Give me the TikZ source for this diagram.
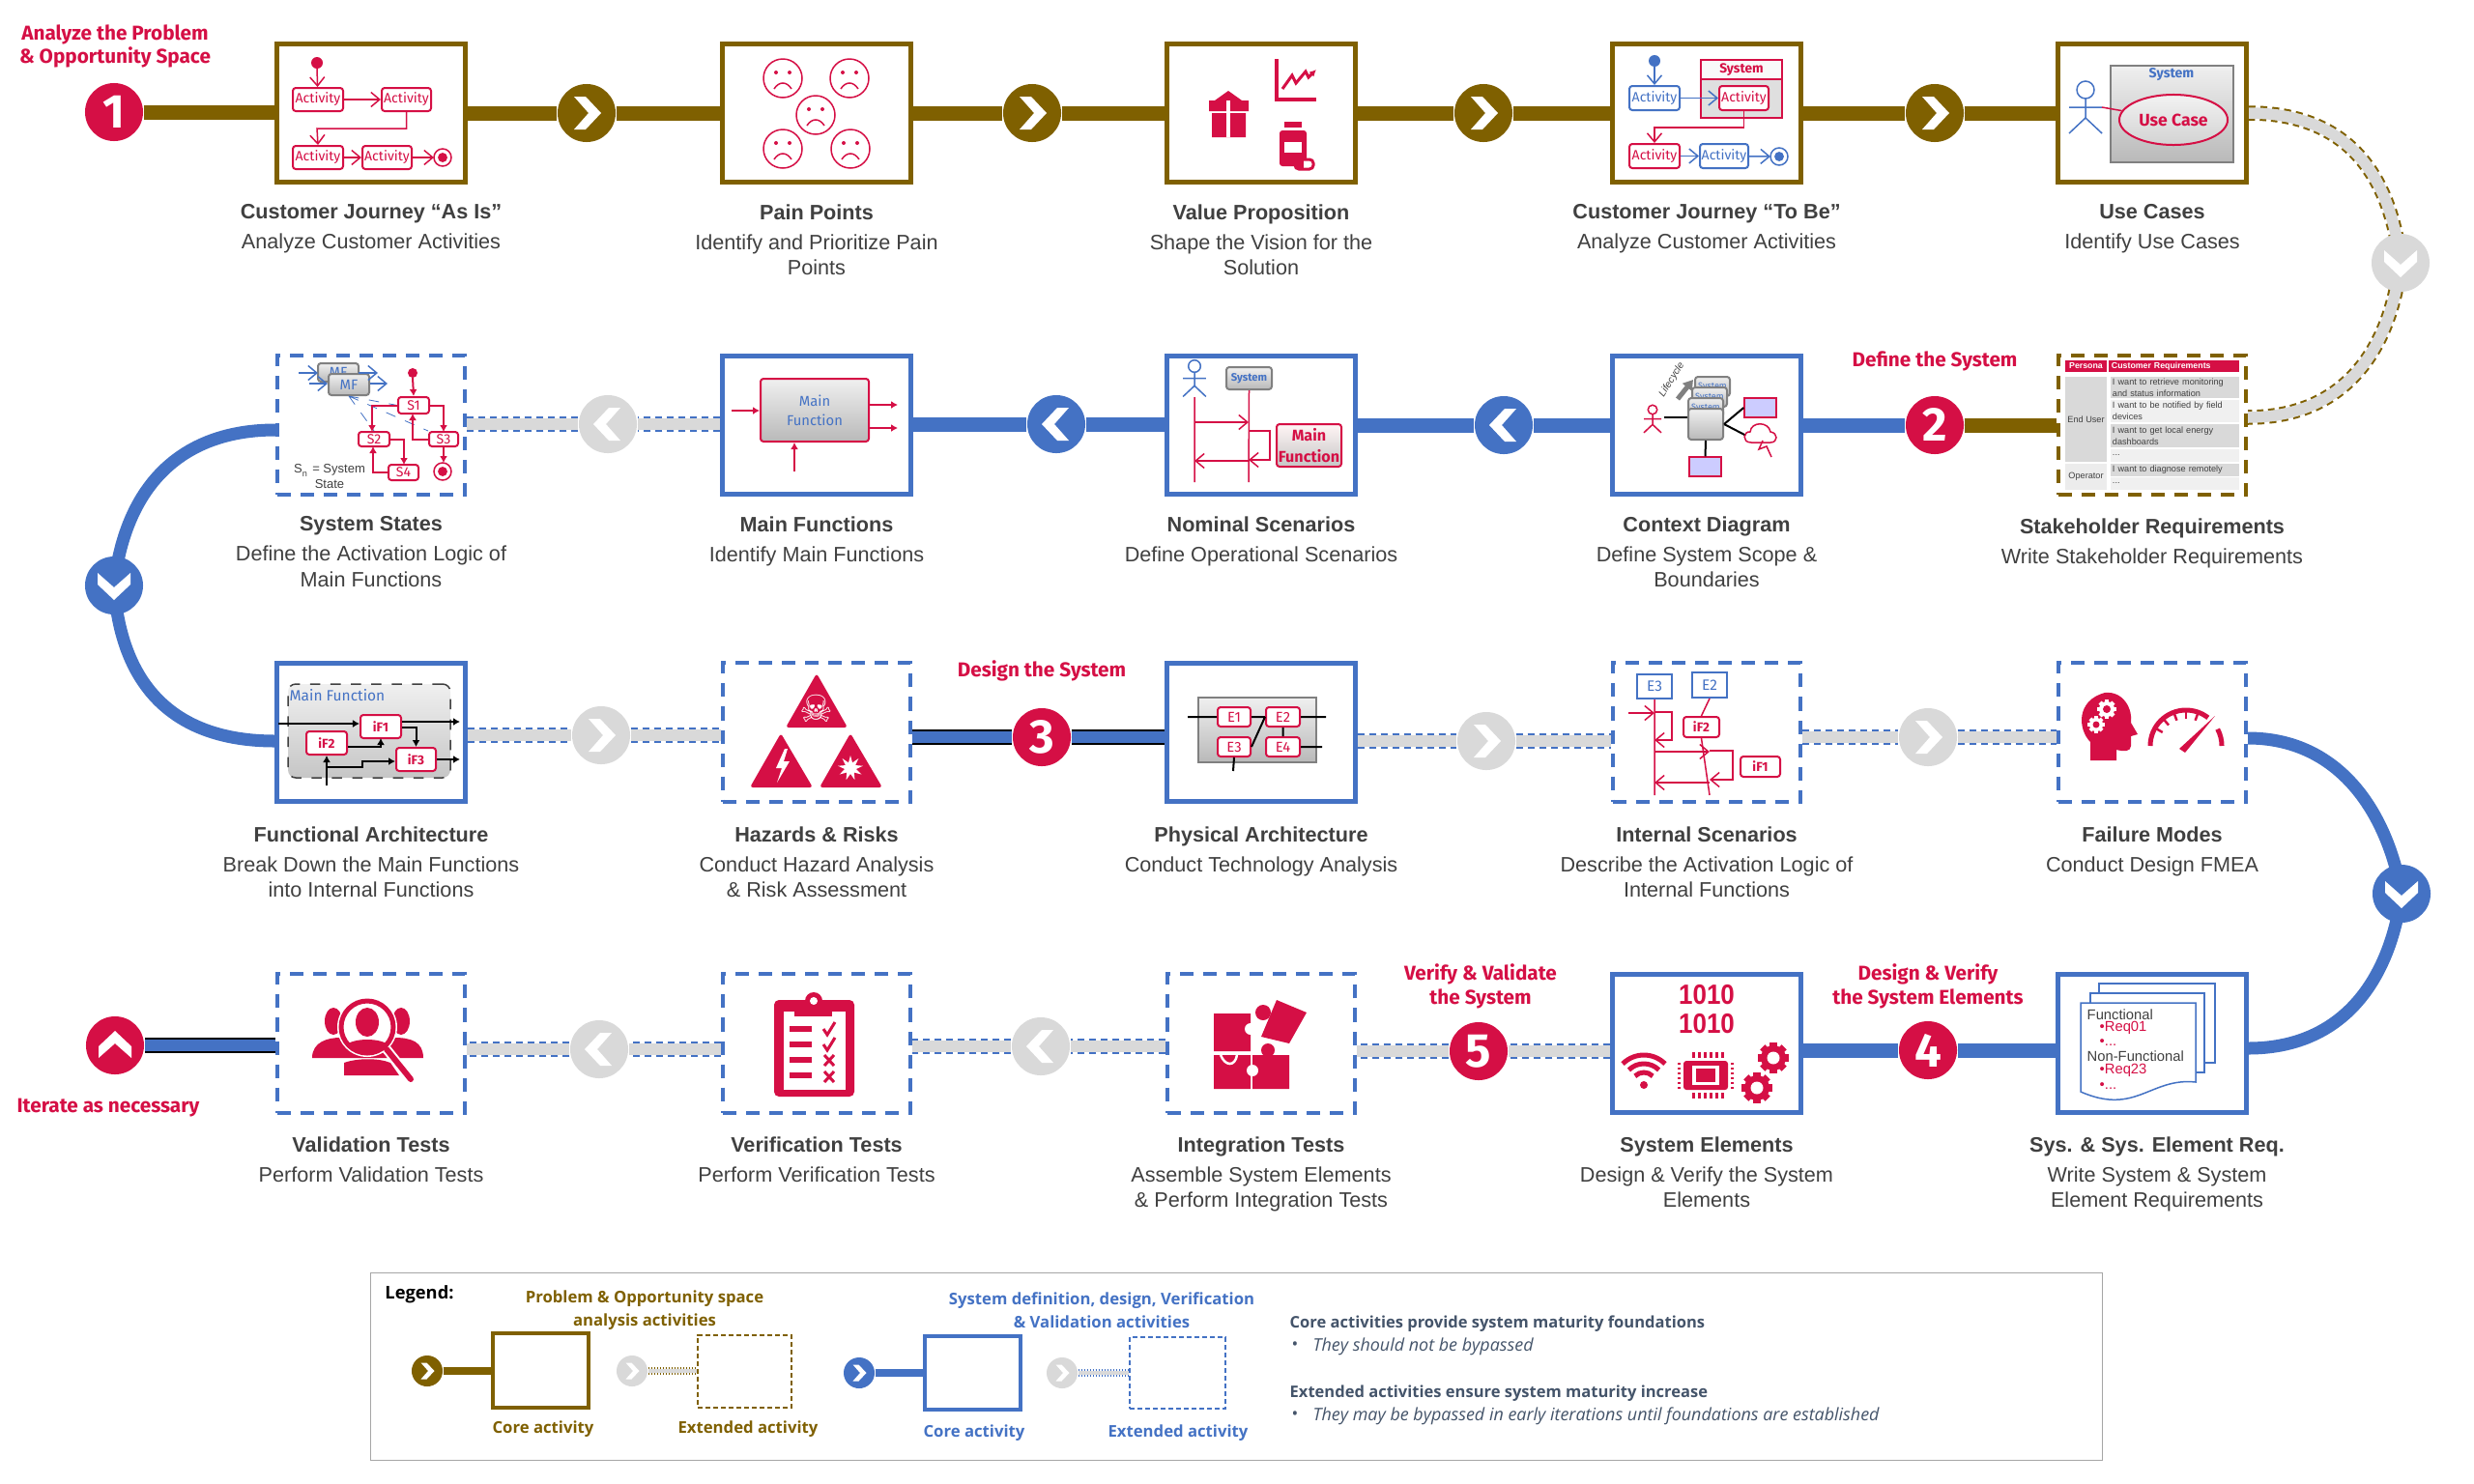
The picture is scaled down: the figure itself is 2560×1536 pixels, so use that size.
\documentclass[tikz,border=0pt]{standalone}
\usepackage{fontspec}
\usepackage{tikz}
\usetikzlibrary{arrows.meta,backgrounds,shapes.geometric}
\setmainfont{Liberation Sans}
\newfontfamily\headfont{Fira Sans}
\newfontfamily\legfont{Open Sans}
\newfontfamily\symfont{DejaVu Sans}
\definecolor{crimred}{HTML}{D50F45}
\definecolor{corebrown}{HTML}{7F6000}
\definecolor{coreblue}{HTML}{4472C4}
\definecolor{extgray}{HTML}{D9D9D9}
\definecolor{inkgray}{HTML}{404040}
\definecolor{slate}{HTML}{44546A}
\newcommand{\fsz}[1]{\fontsize{#1}{#1}\selectfont}
\newcommand{\ibox}[6][redact]{\node[#1,minimum width={(#5-#3)*0.01cm},minimum height={(#6-#4)*0.01cm}] (#2) at ({(#3+#5)/2},{(#4+#6)/2})}
\newcommand{\chevron}[3][1]{\fill[white,shift={(#2)},rotate=#3,scale=#1] (-13,-17) -- (-1,-17) -- (15,0) -- (-1,17) -- (-13,17) -- (2,0) -- cycle;}
\newcommand{\stickman}[4]{\begin{scope}[shift={(#1,#2)},scale=#3]
    \draw[draw=#4,line width=.15mm] (0,0) circle (9) (0,9) -- (0,29) (-17,18) -- (17,18) (-17,45) -- (0,29) -- (17,45);
  \end{scope}}
\newcommand{\stopdot}[4]{\draw[#4,line width=.15mm,fill=white] (#1,#2) circle (#3); \fill[#4] (#1,#2) circle ({#3*.55});}
\newcommand{\geartoy}[5]{\foreach \a in {0,45,...,135} {\fill[#4,shift={(#1,#2)},rotate=\a] ({-#3*.28},{-#3*1.22}) rectangle ({#3*.28},{#3*1.22});}
  \fill[#4] (#1,#2) circle (#3); \fill[#5] (#1,#2) circle ({#3*.5});}
\tikzset{
  coreb/.style={draw=coreblue,fill=white,line width=.5mm,minimum width=1.94cm,minimum height=1.43cm,inner sep=0pt},
  coren/.style={coreb,draw=corebrown},
  extb/.style={coreb,line width=.4mm,dash pattern=on 1.4mm off 1mm},
  extn/.style={extb,draw=corebrown},
  stagelbl/.style={anchor=north,align=center,inner sep=0pt,text=inkgray,font=\fontsize{6.15}{7.5}\selectfont},
  headlbl/.style={align=center,inner sep=0pt,text=crimred,font=\headfont\bfseries\fontsize{5.9}{6.9}\selectfont},
  corelink/.style={draw=#1,line width=1.5mm},
  edgelink/.style={draw=black,line width=1.6mm,postaction={draw=coreblue,line width=1.25mm}},
  extband/.style={draw=#1,line width=1.55mm,dash pattern=on .7mm off .5mm,postaction={draw=extgray,solid,line width=1.15mm}},
  thinband/.style={draw=#1,line width=.8mm,dash pattern=on .15mm off .15mm,postaction={draw=extgray,solid,line width=.35mm}},
  chevmark/.style={circle,fill=#1,minimum size=6mm,inner sep=0pt},
  smallmark/.style={circle,fill=#1,minimum size=3.2mm,inner sep=0pt},
  numdot/.style={chevmark=crimred,text=white,font=\headfont\bfseries\fsz{14}},
  redact/.style={draw=crimred,fill=white,rounded corners=.3mm,line width=.2mm,inner sep=0pt,text=crimred,font=\headfont\fsz{4}},
  blueact/.style={redact,draw=coreblue,text=coreblue},
  grayblock/.style={redact,draw=gray,top color=gray!12,bottom color=gray!55,text=coreblue},
  pinkblock/.style={redact,top color=red!4,bottom color=gray!45,font=\headfont\bfseries\fsz{4.6}},
  cell/.style={inner sep=0pt,fill=extgray,text=inkgray,align=left,font=\fontsize{2.6}{3.4}\selectfont},
  tabtxt/.style={cell,text width=1.29cm},
  lilac/.style={draw=crimred,fill=blue!20,inner sep=0pt,line width=.15mm},
  ua/.style={-{Straight Barb[length=.9mm,width=1.5mm]},line width=.15mm,draw=#1},
  ua/.default=crimred,
  fa/.style={-{Latex[length=.7mm,width=.8mm]},line width=.2mm,draw=#1},
  fa/.default=crimred,
  leglbl/.style={align=center,inner sep=0pt,text=#1,font=\legfont\bfseries\fontsize{4.75}{6.9}\selectfont},
  legtxt/.style={anchor=west,inner sep=0pt,text=slate,font=\legfont\fontsize{5.1}{6}\selectfont},
}
\begin{document}
\begin{tikzpicture}[x=0.01cm,y=-0.01cm]
  \useasboundingbox (0,0) rectangle (2560,1536);

  \node[coren] (journeyA) at (384,117) {};
  \node[coren] (pain) at (845,117) {};
  \node[coren] (valprop) at (1305,117) {};
  \node[coren] (journeyB) at (1766,117) {};
  \node[coren] (usecase) at (2227,117) {};
  \node[extb] (sysstate) at (384,440) {};
  \node[coreb] (mainfun) at (845,440) {};
  \node[coreb] (nominal) at (1305,440) {};
  \node[coreb] (context) at (1766,440) {};
  \node[extn] (stakeh) at (2227,440) {};
  \node[coreb] (funarch) at (384,758) {};
  \node[extb] (hazard) at (845,758) {};
  \node[coreb] (physarch) at (1305,758) {};
  \node[extb] (intscen) at (1766,758) {};
  \node[extb] (failm) at (2227,758) {};
  \node[extb] (valtest) at (384,1080) {};
  \node[extb] (vertest) at (845,1080) {};
  \node[extb] (intest) at (1305,1080) {};
  \node[coreb] (syselem) at (1766,1080) {};
  \node[coreb] (sysreq) at (2227,1080) {};

  \node[stagelbl] (journeyAL) at (384,211) {\textbf{Customer Journey “As Is”}\\[1.3pt]Analyze Customer Activities};
  \node[stagelbl] (painL) at (845,211) {\textbf{Pain Points}\\[1.3pt]Identify and Prioritize Pain\\Points};
  \node[stagelbl] (valpropL) at (1305,211) {\textbf{Value Proposition}\\[1.3pt]Shape the Vision for the\\Solution};
  \node[stagelbl] (journeyBL) at (1766,211) {\textbf{Customer Journey “To Be”}\\[1.3pt]Analyze Customer Activities};
  \node[stagelbl] (usecaseL) at (2227,211) {\textbf{Use Cases}\\[1.3pt]Identify Use Cases};
  \node[stagelbl] (sysstateL) at (384,534) {\textbf{System States}\\[1.3pt]Define the Activation Logic of\\Main Functions};
  \node[stagelbl] (mainfunL) at (845,534) {\textbf{Main Functions}\\[1.3pt]Identify Main Functions};
  \node[stagelbl] (nominalL) at (1305,534) {\textbf{Nominal Scenarios}\\[1.3pt]Define Operational Scenarios};
  \node[stagelbl] (contextL) at (1766,534) {\textbf{Context Diagram}\\[1.3pt]Define System Scope \&\\Boundaries};
  \node[stagelbl] (stakehL) at (2227,536) {\textbf{Stakeholder Requirements}\\[1.3pt]Write Stakeholder Requirements};
  \node[stagelbl] (funarchL) at (384,855) {\textbf{Functional Architecture}\\[1.3pt]Break Down the Main Functions\\into Internal Functions};
  \node[stagelbl] (hazardL) at (845,855) {\textbf{Hazards \& Risks}\\[1.3pt]Conduct Hazard Analysis\\\& Risk Assessment};
  \node[stagelbl] (physarchL) at (1305,855) {\textbf{Physical Architecture}\\[1.3pt]Conduct Technology Analysis};
  \node[stagelbl] (intscenL) at (1766,855) {\textbf{Internal Scenarios}\\[1.3pt]Describe the Activation Logic of\\Internal Functions};
  \node[stagelbl] (failmL) at (2227,855) {\textbf{Failure Modes}\\[1.3pt]Conduct Design FMEA};
  \node[stagelbl] (valtestL) at (384,1176) {\textbf{Validation Tests}\\[1.3pt]Perform Validation Tests};
  \node[stagelbl] (vertestL) at (845,1176) {\textbf{Verification Tests}\\[1.3pt]Perform Verification Tests};
  \node[stagelbl] (intestL) at (1305,1176) {\textbf{Integration Tests}\\[1.3pt]Assemble System Elements\\\& Perform Integration Tests};
  \node[stagelbl] (syselemL) at (1766,1176) {\textbf{System Elements}\\[1.3pt]Design \& Verify the System\\Elements};
  \node[stagelbl] (sysreqL) at (2232,1176) {\textbf{Sys. \& Sys. Element Req.}\\[1.3pt]Write System \& System\\Element Requirements};

  \node[headlbl] (phase1) at (119,48) {Analyze the Problem\\\& Opportunity Space};
  \node[headlbl] (phase2) at (2002,374) {Define the System};
  \node[headlbl] (phase3) at (1078,694) {Design the System};
  \node[headlbl] (phase5) at (1532,1021) {Verify \& Validate\\the System};
  \node[headlbl] (phase4) at (1995,1021) {Design \& Verify\\the System Elements};
  \node[headlbl] (phaseEnd) at (112,1147) {Iterate as necessary};

  \node[numdot] (num1) at (118,116) {1};
  \node[numdot] (num2) at (2002,440) {2};
  \node[numdot] (num3) at (1078,763) {3};
  \node[numdot] (num4) at (1995,1087) {4};
  \node[numdot] (num5) at (1530,1088) {5};

  \node[chevmark=corebrown] (mkA) at (607,117) {}; \chevron{mkA}{0}
  \node[chevmark=corebrown] (mkB) at (1068,117) {}; \chevron{mkB}{0}
  \node[chevmark=corebrown] (mkC) at (1535,117) {}; \chevron{mkC}{0}
  \node[chevmark=corebrown] (mkD) at (2002,117) {}; \chevron{mkD}{0}
  \node[chevmark=extgray] (mkE) at (2484,272) {}; \chevron{mkE}{-90}
  \node[chevmark=coreblue] (mkF) at (1556,440) {}; \chevron{mkF}{180}
  \node[chevmark=coreblue] (mkG) at (1093,439) {}; \chevron{mkG}{180}
  \node[chevmark=extgray] (mkH) at (629,439) {}; \chevron{mkH}{180}
  \node[chevmark=coreblue] (mkI) at (118,606) {}; \chevron{mkI}{-90}
  \node[chevmark=extgray] (mkJ) at (622,761) {}; \chevron{mkJ}{0}
  \node[chevmark=extgray] (mkK) at (1538,767) {}; \chevron{mkK}{0}
  \node[chevmark=extgray] (mkL) at (1995,763) {}; \chevron{mkL}{0}
  \node[chevmark=coreblue] (mkM) at (2485,925) {}; \chevron{mkM}{-90}
  \node[chevmark=extgray] (mkN) at (1077,1083) {}; \chevron{mkN}{180}
  \node[chevmark=extgray] (mkO) at (620,1086) {}; \chevron{mkO}{180}
  \node[chevmark=crimred] (mkEnd) at (119,1082) {}; \chevron{mkEnd}{90}

  \begin{scope}[on background layer]
    \fill[white] (0,0) rectangle (2560,1536);
    \draw[corelink=corebrown] (num1) -- (journeyA.west |- num1) (journeyA.east |- mkA) -- (mkA) -- (pain.west |- mkA);
    \draw[corelink=corebrown] (pain.east |- mkB) -- (mkB) -- (valprop.west |- mkB);
    \draw[corelink=corebrown] (valprop.east |- mkC) -- (mkC) -- (journeyB.west |- mkC);
    \draw[corelink=corebrown] (journeyB.east |- mkD) -- (mkD) -- (usecase.west |- mkD);
    \draw[extband=corebrown] (usecase.east) .. controls (2420,117) and (2472,170) .. (mkE.center) .. controls (2472,370) and (2420,432) .. ([yshift=.08cm]stakeh.east);
    \draw[corelink=corebrown] (num2) -- (stakeh.west |- num2);
    \draw[corelink=coreblue] (num2) -- (context.east |- num2);
    \draw[corelink=coreblue] (context.west |- mkF) -- (mkF) -- (nominal.east |- mkF);
    \draw[corelink=coreblue] (nominal.west |- mkG) -- (mkG) -- (mainfun.east |- mkG);
    \draw[extband=coreblue] (mainfun.west |- mkH) -- (mkH) -- (sysstate.east |- mkH);
    \draw[draw=coreblue,line width=1.3mm] ([yshift=-.05cm]sysstate.west) .. controls (190,445) and (130,500) .. (mkI.center) .. controls (125,710) and (180,767) .. ([yshift=-.09cm]funarch.west);
    \draw[extband=coreblue] (funarch.east |- mkJ) -- (mkJ) -- (hazard.west |- mkJ);
    \draw[edgelink] (hazard.east |- num3) -- (num3) -- (physarch.west |- num3);
    \draw[extband=coreblue] (physarch.east |- mkK) -- (mkK) -- (intscen.west |- mkK);
    \draw[extband=coreblue] (intscen.east |- mkL) -- (mkL) -- (failm.west |- mkL);
    \draw[draw=coreblue,line width=1.3mm] ([yshift=-.06cm]failm.east) .. controls (2420,764) and (2470,840) .. (mkM.center) .. controls (2472,1020) and (2420,1085) .. ([yshift=-.05cm]sysreq.east);
    \draw[corelink=coreblue] (sysreq.west |- num4) -- (num4) -- (syselem.east |- num4);
    \draw[extband=coreblue] (syselem.west |- num5) -- (num5) -- (intest.east |- num5);
    \draw[extband=coreblue] (intest.west |- mkN) -- (mkN) -- (vertest.east |- mkN);
    \draw[extband=coreblue] (vertest.west |- mkO) -- (mkO) -- (valtest.east |- mkO);
    \draw[edgelink] (valtest.west |- mkEnd) -- (mkEnd);
  \end{scope}

  \fill[crimred] (328,65) circle (6);
  \ibox{actA}{303}{91}{355}{115} {Activity};
  \ibox{actB}{395}{91}{446}{115} {Activity};
  \ibox{actC}{303}{151}{355}{175} {Activity};
  \ibox{actD}{375}{151}{426}{175} {Activity};
  \stopdot{458}{163}{9}{crimred}
  \coordinate (actEnd) at (449,163);
  \draw[ua] (328,71) -- (actA);
  \draw[ua] (actA) -- (actB);
  \draw[ua] (actB.south) |- (328,133) -- (actC.north);
  \draw[ua] (actC) -- (actD);
  \draw[ua] (actD) -- (actEnd);

  \foreach \x/\y in {810/81,879/81,844/119,810/154,880/154} {
    \begin{scope}[shift={(\x,\y)},draw=crimred,line width=.15mm]
      \draw (0,0) circle (20);
      \fill[crimred] (-7,-6) circle (2) (7,-6) circle (2);
      \draw (-9,11) .. controls (-4,3) and (4,3) .. (9,11);
    \end{scope}
  }

  \fill[crimred] (1251,104) rectangle (1292,115) (1254,117) rectangle (1289,142) (1257,104) -- (1271,94) -- (1285,104) -- cycle;
  \fill[white] (1269,104) rectangle (1273,142);
  \draw[crimred,line width=.4mm] (1321,61) -- (1321,103) -- (1362,103);
  \draw[crimred,line width=.3mm,-{Latex[length=.7mm,width=.7mm]}] (1327,92) -- (1337,78) -- (1341,86) -- (1351,74) -- (1354,80) -- (1362,72);
  \fill[crimred] (1329,126) rectangle (1347,132);
  \fill[crimred,rounded corners=.3mm] (1324,135) rectangle (1352,172);
  \fill[white] (1329,147) rectangle (1347,158);
  \draw[crimred,fill=white,line width=.3mm,rounded corners=.4mm] (1340,165) rectangle (1359,175);
  \fill[crimred] (1340,165) rectangle (1349,175);

  \fill[coreblue] (1712,63) circle (6);
  \ibox[redact,rounded corners=0pt,fill=gray!25]{sysbox}{1760}{62}{1844}{122} {};
  \ibox[redact,rounded corners=0pt,fill=gray!5,font=\headfont\bfseries\fsz{3.9}]{syshead}{1760}{62}{1844}{82} {System};
  \ibox[blueact]{tbA}{1686}{89}{1738}{114} {Activity};
  \ibox{tbB}{1779}{89}{1830}{114} {Activity};
  \ibox{tbC}{1686}{149}{1738}{174} {Activity};
  \ibox[blueact]{tbD}{1759}{149}{1809}{174} {Activity};
  \stopdot{1841}{162}{9}{coreblue}
  \coordinate (tbEnd) at (1832,162);
  \draw[ua=coreblue] (1712,69) -- (tbA);
  \draw[ua=coreblue] (tbA) -- (tbB);
  \draw[ua] (tbB.south) |- (1712,132) -- (tbC.north);
  \draw[ua=coreblue] (tbC) -- (tbD);
  \draw[ua=coreblue] (tbD) -- (tbEnd);

  \ibox[grayblock,rounded corners=0pt]{ucpanel}{2184}{68}{2311}{168} {};
  \node[inner sep=0pt,text=coreblue,font=\headfont\bfseries\fsz{4}] (uctitle) at (2247,77) {System};
  \node[ellipse,draw=crimred,line width=.2mm,top color=gray!10,bottom color=gray!35,minimum width=1.12cm,minimum height=.52cm,inner sep=0pt,text=crimred,font=\headfont\bfseries\fsz{5}] (ucase) at (2249,124) {Use Case};
  \stickman{2158}{93}{1}{coreblue}
  \coordinate (ucHand) at (2175,111);
  \draw[crimred,line width=.15mm] (ucHand) -- (ucase);

  \ibox[cell,fill=crimred,text=white,font=\bfseries\fsz{2.5}]{tabPers}{2137}{373}{2180}{385} {Persona};
  \ibox[tabtxt,fill=crimred,text=white,font=\bfseries\fsz{2.5}]{tabReq}{2182}{373}{2317}{385} {Customer Requirements};
  \ibox[cell]{tabEnd}{2137}{390}{2180}{478} {End User};
  \ibox[cell,fill=extgray!50]{tabOp}{2137}{480}{2180}{507} {Operator};
  \ibox[tabtxt]{tabA}{2184}{390}{2317}{412} {I want to retrieve monitoring\\and status information};
  \ibox[tabtxt,fill=extgray!40]{tabB}{2184}{414}{2317}{437} {I want to be notified by field\\devices};
  \ibox[tabtxt]{tabC}{2184}{439}{2317}{463} {I want to get local energy\\dashboards};
  \ibox[tabtxt,fill=extgray!40]{tabD}{2184}{465}{2317}{478} {...};
  \ibox[tabtxt]{tabE}{2184}{480}{2317}{493} {I want to diagnose remotely};
  \ibox[tabtxt,fill=extgray!40]{tabF}{2184}{494}{2317}{507} {...};

  \ibox[grayblock,font=\headfont\fsz{2.6}]{stackA}{1754}{390}{1790}{410} {System};
  \ibox[grayblock,font=\headfont\fsz{2.6}]{stackB}{1751}{401}{1787}{421} {System};
  \ibox[grayblock,font=\headfont\fsz{2.6}]{stackC}{1747}{412}{1783}{432} {System};
  \ibox[grayblock]{stackD}{1747}{423}{1783}{455} {};
  \draw[gray,line width=.5mm,-{Triangle[length=1mm,width=1.2mm]}] (1736,413) -- (1752,393);
  \node[rotate=58,inner sep=0pt,text=inkgray,font=\itshape\fsz{2.9}] (lifetxt) at (1730,393) {Lifecycle};
  \stickman{1710}{424}{.53}{crimred}
  \coordinate (ctxHand) at (1722,432);
  \draw[line width=.25mm] (ctxHand) -- (stackD.west |- ctxHand);
  \ibox[lilac]{ctxA}{1805}{412}{1838}{432} {};
  \ibox[lilac]{ctxB}{1748}{473}{1781}{493} {};
  \draw[line width=.2mm] (stackD.east) -- (ctxA.west);
  \draw[line width=.2mm] (stackD.east) -- (1811,453);
  \draw[line width=.2mm] (stackD.south) -- (ctxB.north);
  \draw[crimred,fill=white,line width=.15mm] (1812,458) .. controls (1802,458) and (1804,446) .. (1811,447) .. controls (1812,436) and (1830,436) .. (1832,447) .. controls (1840,448) and (1840,458) .. (1832,458) -- cycle;
  \draw[crimred,line width=.15mm] (1824,456) -- (1820,465) -- (1828,462) -- (1833,473);

  \stickman{1236}{379}{.7}{coreblue}
  \ibox[grayblock,font=\headfont\bfseries\fsz{3.2}]{nomSys}{1269}{380}{1316}{403} {System};
  \ibox[pinkblock,align=center]{nomMain}{1321}{439}{1388}{483} {Main\\[1.5pt]Function};
  \draw[crimred,line width=.15mm] (1236,411) -- (1236,499) (nomSys.south) -- (1292,499);
  \draw[ua] (1236,437) -- (1292,437);
  \draw[ua] (1292,446) -- (1314,446) -- (1314,476) -- (1292,476);
  \draw[ua] (1292,477) -- (1236,477);

  \ibox[grayblock,align=center,draw=crimred,font=\headfont\fsz{4.2}]{mfBlock}{787}{392}{899}{457} {Main\\[1.5pt]Function};
  \draw[fa] (757,425) -- (mfBlock.west |- 757,425);
  \draw[fa] (mfBlock.east |- 0,419) -- (929,419);
  \draw[fa] (mfBlock.east |- 0,443) -- (929,443);
  \draw[fa] (822,488) -- (mfBlock.south -| 822,0);

  \ibox[grayblock,font=\headfont\fsz{4.2}]{mfBack}{329}{376}{371}{395} {MF};
  \ibox[grayblock,font=\headfont\fsz{4.2}]{mfFront}{340}{387}{382}{409} {MF};
  \draw[ua=coreblue] (309,386) -- (329,386);
  \draw[ua=coreblue] (371,386) -- (391,386);
  \draw[ua=coreblue] (320,397) -- (mfFront.west |- 320,397);
  \draw[ua=coreblue] (mfFront.east |- 320,397) -- (401,397);
  \fill[crimred] (427,386) circle (5);
  \ibox{stS1}{412}{411}{444}{428} {S1};
  \ibox{stS2}{371}{447}{403}{462} {S2};
  \ibox{stS3}{444}{447}{474}{462} {S3};
  \ibox{stS4}{402}{481}{433}{497} {S4};
  \stopdot{458}{488}{9}{crimred}
  \draw[draw=coreblue,line width=.08mm,dashed] (mfFront.south) -- (stS1.west) (mfFront.south) -- (stS2.north) (mfFront.south) -- (stS3.north west);
  \draw[fa] (427,391) -- (stS1.north);
  \draw[fa] (stS1.west) -| (385,447);
  \draw[fa] (stS1.east) -| (459,447);
  \draw[fa] (stS3.west) -| (427,428);
  \draw[fa] (stS2.east) -| (418,481);
  \draw[fa] (stS4.west) -| (386,462);
  \draw[fa] (459,462) -- (459,479);
  \node[align=center,inner sep=0pt,text=inkgray,font=\fontsize{3.7}{4.4}\selectfont] (stNote) at (341,493) {S\textsubscript{n} = System\\State};

  \ibox[grayblock,dashed,draw=inkgray,line width=.15mm,rounded corners=.8mm,bottom color=gray!45]{faPanel}{298}{708}{466}{805} {};
  \node[anchor=west,inner sep=0pt,text=coreblue,font=\headfont\fsz{4.4}] (faTitle) at (299,720) {Main Function};
  \ibox[redact,font=\headfont\bfseries\fsz{3.8}]{ifA}{373}{740}{415}{764} {iF1};
  \ibox[redact,font=\headfont\bfseries\fsz{3.8}]{ifB}{317}{757}{359}{781} {iF2};
  \ibox[redact,font=\headfont\bfseries\fsz{3.8}]{ifC}{410}{774}{451}{798} {iF3};
  \draw[fa=black] (288,749) -- (ifA.west |- 288,749);
  \draw[fa=black] (ifA.east |- 0,747) -- (476,747);
  \draw[fa=black] (ifA.east |- 0,753) -| (ifC.north);
  \draw[fa=black] (ifB.east |- 0,773) -| (394,764);
  \draw[fa=black] (ifC.east |- 0,786) -- (476,786);
  \draw[fa=black] (338,813) -- (ifB.south);
  \draw[fa=black] (338,794) -- (375,794) -- (375,788) -- (ifC.west |- 0,788);

  \fill[crimred,rounded corners=.3mm] (845,697) -- (877,753) -- (813,753) -- cycle;
  \fill[crimred,rounded corners=.3mm] (808,759) -- (841,815) -- (776,815) -- cycle;
  \fill[crimred,rounded corners=.3mm] (880,759) -- (913,815) -- (848,815) -- cycle;
  \node[inner sep=0pt,text=white,font=\symfont\fsz{11}] (skull) at (845,733) {☠};
  \fill[white] (812,775) -- (803,795) -- (809,795) -- (804,810) -- (817,788) -- (811,788) -- (815,775) -- cycle;
  \node[star,star points=9,star point ratio=2.2,fill=white,inner sep=0pt,minimum size=.26cm] (blast) at (880,795) {};

  \ibox[grayblock,rounded corners=0pt]{paBlock}{1240}{722}{1362}{789} {};
  \ibox[redact,font=\headfont\fsz{4.2}]{elA}{1260}{732}{1294}{752} {E1};
  \ibox[redact,font=\headfont\fsz{4.2}]{elB}{1310}{732}{1345}{752} {E2};
  \ibox[redact,font=\headfont\fsz{4.2}]{elC}{1260}{763}{1294}{783} {E3};
  \ibox[redact,font=\headfont\fsz{4.2}]{elD}{1310}{763}{1345}{783} {E4};
  \draw[line width=.2mm] (1229,742) -- (elA) (elA) -- (elB) (elB) -- (1372,742) (elC.east) -- (elB.west) (elB) -- (elD) (elD) -- (1368,773) (elC.south) -- (1276,798);

  \ibox[blueact,rounded corners=0pt,font=\headfont\fsz{4.4}]{isE3}{1694}{698}{1730}{723} {E3};
  \ibox[blueact,rounded corners=0pt,font=\headfont\fsz{4.4}]{isE2}{1751}{696}{1787}{722} {E2};
  \ibox[redact,font=\headfont\bfseries\fsz{3.8}]{isF2}{1742}{742}{1779}{763} {iF2};
  \ibox[redact,font=\headfont\bfseries\fsz{3.8}]{isF1}{1801}{783}{1842}{804} {iF1};
  \draw[crimred,line width=.15mm] (isE3.south) -- (1712,823) (isE2.south) -- (isF2.north) (isF2.south) -- (1769,823);
  \draw[ua] (1685,738) -- (1712,738);
  \draw[ua] (1712,737) -- (1730,737) -- (1730,766) -- (1712,766);
  \draw[ua] (1712,778) -- (1769,778);
  \draw[ua] (1769,777) -- (1793,777) -- (1793,807) -- (1769,807);
  \draw[ua] (1769,810) -- (1712,810);

  \fill[crimred] (2163,787) -- (2163,768) .. controls (2150,755) and (2148,725) .. (2178,717) .. controls (2198,715) and (2207,735) .. (2205,748) -- (2212,760) -- (2205,762) -- (2205,772) .. controls (2205,778) and (2198,778) .. (2190,776) -- (2190,787) -- cycle;
  \geartoy{2180}{734}{8}{white}{crimred}
  \geartoy{2169}{750}{7}{white}{crimred}
  \begin{scope}[shift={(2262,772)},y=0.01cm]
    \draw[crimred,line width=.5mm] (-37,0) arc[start angle=180,end angle=52,radius=37];
    \draw[crimred,line width=.5mm] (37,0) arc[start angle=0,end angle=28,radius=37];
    \foreach \a in {150,130,110,90,70} {\draw[crimred,line width=.25mm] (\a:28) -- (\a:35);}
    \fill[crimred] (-7,-3) -- (30,31) -- (-1,-7) -- cycle;
  \end{scope}

  \ibox[redact,rounded corners=0pt,fill=white,draw=coreblue]{shC}{2172}{1018}{2292}{1100} {};
  \ibox[redact,rounded corners=0pt,fill=white,draw=coreblue]{shB}{2163}{1028}{2281}{1110} {};
  \draw[coreblue,fill=white,line width=.15mm] (2153,1038) -- (2272,1038) -- (2272,1120) .. controls (2225,1115) and (2210,1155) .. (2153,1130) -- cycle;
  \node[inner sep=0pt,anchor=west,text=inkgray,font=\fsz{4.2}] (reqA) at (2159,1050) {Functional};
  \node[inner sep=0pt,anchor=west,text=crimred,font=\fsz{4.2}] (reqB) at (2172,1064) {•Req01};
  \node[inner sep=0pt,anchor=west,text=crimred,font=\fsz{4.2}] (reqC) at (2172,1079) {•...};
  \node[inner sep=0pt,anchor=west,text=inkgray,font=\fsz{4.2}] (reqD) at (2159,1093) {Non-Functional};
  \node[inner sep=0pt,anchor=west,text=crimred,font=\fsz{4.2}] (reqE) at (2172,1108) {•Req23};
  \node[inner sep=0pt,anchor=west,text=crimred,font=\fsz{4.2}] (reqF) at (2172,1124) {•...};

  \node[inner sep=0pt,text=crimred,xscale=.9,font=\bfseries\fsz{8.2}] (bitsA) at (1766,1030) {1010};
  \node[inner sep=0pt,text=crimred,xscale=.9,font=\bfseries\fsz{8.2}] (bitsB) at (1766,1060) {1010};
  \begin{scope}[shift={(1701,1123)},y=0.01cm]
    \fill[crimred] (0,0) circle (4);
    \foreach \r in {13,22,31} {\draw[crimred,line width=.5mm] (45:\r) arc[start angle=45,end angle=135,radius=\r];}
  \end{scope}
  \fill[crimred,rounded corners=.3mm] (1742,1098) rectangle (1788,1128);
  \fill[white] (1751,1103) rectangle (1779,1123);
  \fill[crimred] (1755,1106) rectangle (1775,1120);
  \foreach \p in {0,...,5} {
    \fill[crimred] ({1751+\p*6},1089) rectangle ({1754+\p*6},1095);
    \fill[crimred] ({1751+\p*6},1131) rectangle ({1754+\p*6},1137);
    \fill[crimred] (1736,{1100+\p*5}) rectangle (1739,{1102+\p*5});
    \fill[crimred] (1791,{1100+\p*5}) rectangle (1794,{1102+\p*5});
  }
  \geartoy{1835}{1095}{13}{crimred}{white}
  \geartoy{1818}{1126}{13}{crimred}{white}

  \fill[crimred] (1256,1049) rectangle (1294,1088) (1256,1092) rectangle (1294,1127) (1296,1092) rectangle (1334,1127);
  \fill[crimred] (1321,1035) -- (1352,1048) -- (1334,1080) -- (1305,1073) -- cycle;
  \fill[crimred] (1307,1048) circle (8) (1312,1087) circle (7);
  \fill[white] (1294,1065) circle (6) (1296,1108) circle (6);
  \draw[white,line width=.25mm] (1263,1092) .. controls (1268,1104) and (1278,1104) .. (1280,1092);

  \fill[crimred] (323,1095) .. controls (323,1078) and (340,1074) .. (352,1074) -- (408,1074) .. controls (425,1074) and (438,1078) .. (438,1095) -- cycle;
  \fill[crimred] (345,1057) ellipse (9 and 14) (415,1057) ellipse (9 and 14);
  \fill[white] (380,1063) circle (31);
  \fill[crimred] (380,1058) ellipse (12 and 15);
  \fill[crimred] (358,1082) .. controls (365,1074) and (395,1074) .. (402,1082) .. controls (392,1090) and (368,1090) .. (358,1082) -- cycle;
  \fill[crimred] (356,1113) -- (356,1100) .. controls (370,1095) and (392,1095) .. (404,1100) -- (413,1113) -- cycle;
  \draw[crimred,line width=.5mm] (380,1063) circle (27);
  \draw[white,line width=1mm] (400,1086) -- (425,1117);
  \draw[crimred,line width=.6mm,line cap=round] (400,1086) -- (425,1117);

  \fill[crimred,rounded corners=.5mm] (801,1035) rectangle (884,1135);
  \fill[white] (811,1047) rectangle (875,1128);
  \fill[crimred] (822,1036) rectangle (861,1052);
  \fill[crimred] (842,1036) circle (9);
  \fill[white] (842,1036) circle (4);
  \foreach \y in {1065,1081,1097,1113} {\fill[crimred] (817,\y-3) rectangle (840,\y+3);}
  \draw[crimred,line width=.3mm] (852,1065) -- (856,1071) -- (864,1058) (852,1081) -- (856,1087) -- (864,1074);
  \draw[crimred,line width=.3mm] (853,1092) -- (863,1103) (863,1092) -- (853,1103) (853,1109) -- (863,1120) (863,1109) -- (853,1120);

  \node[draw=gray!70,line width=.1mm,minimum width=17.91cm,minimum height=1.93cm,inner sep=0pt] (legend) at (1279.5,1414.5) {};
  \node[inner sep=0pt,font=\legfont\bfseries\fontsize{5.2}{6}\selectfont] (legTitle) at (434,1340) {Legend:};
  \node[leglbl=corebrown] (legHeadA) at (667,1356) {Problem \& Opportunity space\\analysis activities};
  \node[leglbl=coreblue] (legHeadB) at (1140,1356) {System definition, design, Verification\\\& Validation activities};
  \ibox[coren,line width=.4mm]{legBoxA}{510}{1380}{609}{1457} {};
  \ibox[extn,line width=.25mm,dash pattern=on .5mm off .3mm]{legBoxB}{722}{1382}{819}{1457} {};
  \ibox[coreb,line width=.4mm]{legBoxC}{957}{1383}{1056}{1459} {};
  \ibox[extb,line width=.25mm,dash pattern=on .5mm off .3mm]{legBoxD}{1169}{1384}{1268}{1458} {};
  \node[smallmark=corebrown] (legMkA) at (442,1419) {}; \chevron[.5]{legMkA}{0}
  \node[smallmark=extgray] (legMkB) at (654,1419) {}; \chevron[.5]{legMkB}{0}
  \node[smallmark=coreblue] (legMkC) at (889,1421) {}; \chevron[.5]{legMkC}{0}
  \node[smallmark=extgray] (legMkD) at (1099,1421) {}; \chevron[.5]{legMkD}{0}
  \begin{scope}[on background layer]
    \draw[draw=corebrown,line width=.8mm] (legMkA) -- (legBoxA.west |- legMkA);
    \draw[thinband=corebrown] (legMkB) -- (legBoxB.west |- legMkB);
    \draw[draw=coreblue,line width=.8mm] (legMkC) -- (legBoxC.west |- legMkC);
    \draw[thinband=coreblue] (legMkD) -- (legBoxD.west |- legMkD);
  \end{scope}
  \node[leglbl=corebrown] (legCapA) at (562,1479) {Core activity};
  \node[leglbl=corebrown] (legCapB) at (774,1479) {Extended activity};
  \node[leglbl=coreblue] (legCapC) at (1008,1483) {Core activity};
  \node[leglbl=coreblue] (legCapD) at (1219,1483) {Extended activity};
  \node[legtxt,font=\legfont\bfseries\fontsize{4.7}{6}\selectfont] (legCore) at (1334,1370) {Core activities provide system maturity foundations};
  \node[legtxt] (legCoreB) at (1336,1393) {•};
  \node[legtxt,font=\legfont\itshape\fontsize{5.1}{6}\selectfont] (legCoreT) at (1358,1394) {They should not be bypassed};
  \node[legtxt,font=\legfont\bfseries\fontsize{4.7}{6}\selectfont] (legExt) at (1334,1442) {Extended activities ensure system maturity increase};
  \node[legtxt] (legExtB) at (1336,1465) {•};
  \node[legtxt,font=\legfont\itshape\fontsize{5.1}{6}\selectfont] (legExtT) at (1358,1466) {They may be bypassed in early iterations until foundations are established};
\end{tikzpicture}
\end{document}
